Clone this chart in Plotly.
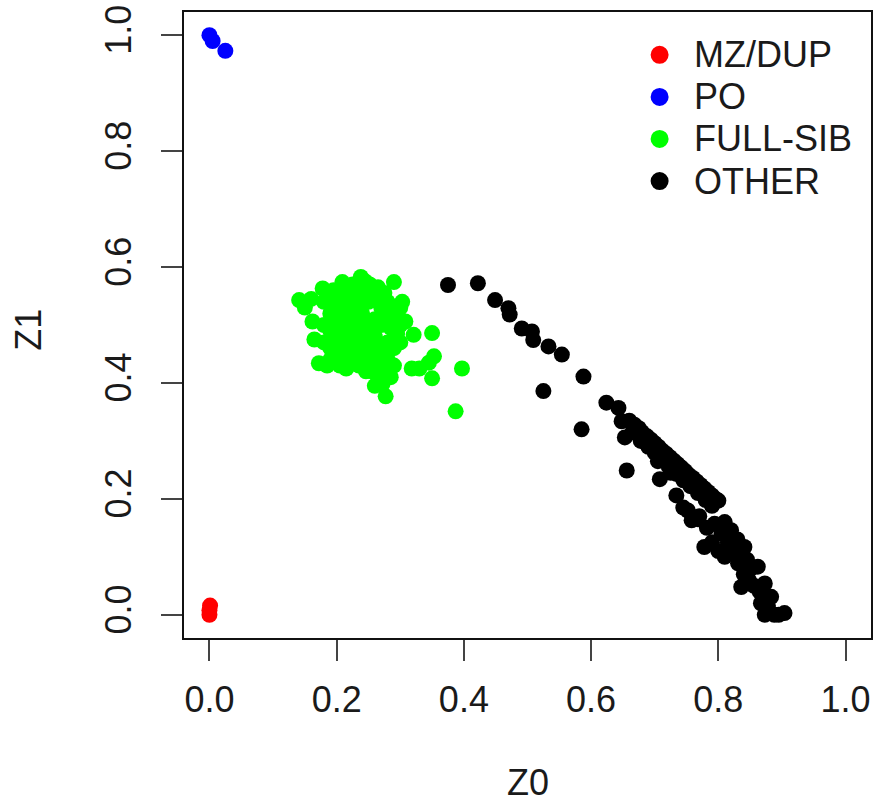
import plotly.graph_objects as go

# ---- data ----
mz_x = [0.000, 0.000, 0.001]
mz_y = [0.000, 0.008, 0.016]

po_x = [0.000, 0.005, 0.025]
po_y = [1.000, 0.990, 0.973]

sib_x = [0.141, 0.150, 0.162, 0.160, 0.178, 0.195, 0.209, 0.225, 0.238, 0.252, 0.290, 0.303, 0.308,
         0.350, 0.321, 0.353, 0.397, 0.350, 0.387, 0.277, 0.272, 0.172, 0.185, 0.318, 0.246, 0.165,
         0.330, 0.345,
         0.18, 0.19, 0.20, 0.21, 0.22, 0.23, 0.24, 0.25, 0.26, 0.27, 0.28, 0.29, 0.30,
         0.18, 0.19, 0.20, 0.21, 0.22, 0.23, 0.24, 0.25, 0.26, 0.27, 0.28, 0.29, 0.30,
         0.18, 0.19, 0.20, 0.21, 0.22, 0.23, 0.24, 0.25, 0.26, 0.27, 0.28, 0.29, 0.30,
         0.19, 0.20, 0.21, 0.22, 0.23, 0.24, 0.25, 0.26, 0.27, 0.28, 0.29,
         0.215, 0.235, 0.255, 0.265, 0.275, 0.285, 0.260, 0.205,
         0.195, 0.215, 0.235, 0.245, 0.255, 0.265, 0.235, 0.225, 0.205, 0.215, 0.245, 0.265,
         0.275, 0.285, 0.295]
sib_y = [0.543, 0.530, 0.506, 0.545, 0.563, 0.560, 0.574, 0.570, 0.583, 0.570, 0.574, 0.540, 0.506,
         0.486, 0.483, 0.446, 0.425, 0.408, 0.351, 0.377, 0.398, 0.434, 0.430, 0.425, 0.420, 0.475,
         0.425, 0.435,
         0.54, 0.52, 0.55, 0.53, 0.55, 0.54, 0.56, 0.54, 0.55, 0.53, 0.54, 0.52, 0.53,
         0.50, 0.49, 0.51, 0.50, 0.52, 0.50, 0.52, 0.50, 0.51, 0.50, 0.51, 0.49, 0.50,
         0.47, 0.46, 0.48, 0.47, 0.48, 0.47, 0.49, 0.47, 0.48, 0.46, 0.47, 0.46, 0.47,
         0.44, 0.45, 0.44, 0.45, 0.44, 0.46, 0.44, 0.45, 0.43, 0.44, 0.43,
         0.425, 0.430, 0.420, 0.410, 0.420, 0.410, 0.395, 0.430,
         0.535, 0.515, 0.525, 0.505, 0.485, 0.465, 0.485, 0.465, 0.495, 0.565, 0.575, 0.565,
         0.555, 0.495, 0.485]

other_x = [0.375, 0.422, 0.449, 0.470, 0.472, 0.491, 0.507, 0.509, 0.533, 0.554, 0.525, 0.588,
           0.585, 0.624, 0.643, 0.648, 0.653, 0.656, 0.708, 0.734,
           0.660, 0.668, 0.675, 0.680, 0.688, 0.694, 0.700, 0.706, 0.712, 0.718, 0.724, 0.730,
           0.736, 0.742, 0.748, 0.754, 0.760, 0.766, 0.772, 0.778, 0.784, 0.790, 0.796, 0.800,
           0.665, 0.678, 0.690, 0.700, 0.712, 0.722, 0.734, 0.745, 0.756, 0.768, 0.780, 0.790,
           0.705, 0.725, 0.752, 0.768,
           0.745, 0.758, 0.770, 0.782, 0.794, 0.805, 0.810, 0.820, 0.815, 0.778, 0.790, 0.800,
           0.830, 0.841, 0.835, 0.831, 0.845, 0.852, 0.862, 0.840, 0.836, 0.848, 0.856, 0.873,
           0.865, 0.883, 0.867, 0.878, 0.888, 0.873, 0.904, 0.895, 0.825, 0.810]
other_y = [0.569, 0.572, 0.543, 0.529, 0.518, 0.494, 0.489, 0.474, 0.463, 0.449, 0.386, 0.411,
           0.320, 0.366, 0.357, 0.334, 0.306, 0.249, 0.234, 0.206,
           0.335, 0.328, 0.322, 0.315, 0.308, 0.302, 0.296, 0.290, 0.283, 0.278, 0.272, 0.266,
           0.260, 0.254, 0.248, 0.241, 0.236, 0.230, 0.224, 0.218, 0.212, 0.206, 0.200, 0.197,
           0.315, 0.300, 0.290, 0.280, 0.268, 0.256, 0.243, 0.232, 0.222, 0.210, 0.198, 0.188,
           0.265, 0.245, 0.180, 0.165,
           0.185, 0.163, 0.170, 0.150, 0.157, 0.140, 0.160, 0.146, 0.125, 0.117, 0.125, 0.110,
           0.130, 0.117, 0.100, 0.089, 0.095, 0.080, 0.083, 0.070, 0.048, 0.060, 0.050, 0.054,
           0.040, 0.031, 0.020, 0.015, 0.000, 0.000, 0.003, 0.000, 0.110, 0.100]

x_ticks = [0.0, 0.2, 0.4, 0.6, 0.8, 1.0]
y_ticks = [0.0, 0.2, 0.4, 0.6, 0.8, 1.0]
tick_text = ["0.0", "0.2", "0.4", "0.6", "0.8", "1.0"]

FONT = "Liberation Sans, Arial, Helvetica, sans-serif"
FS = 36
TXT = "#1a1a1a"

fig = go.Figure()
series = [("MZ/DUP", mz_x, mz_y, "#ff0000"),
          ("PO", po_x, po_y, "#0000ff"),
          ("FULL-SIB", sib_x, sib_y, "#00ff00"),
          ("OTHER", other_x, other_y, "#000000")]
for name, xs, ys, col in series:
    fig.add_trace(go.Scatter(x=xs, y=ys, mode="markers", name=name, showlegend=False,
                             marker=dict(color=col, size=16, line=dict(width=0))))

axis_common = dict(range=[-0.04, 1.04], showgrid=False, zeroline=False,
                   showline=True, mirror=True, linecolor="#111", linewidth=1.5,
                   ticks="outside", ticklen=21, tickwidth=1.5, tickcolor="#444",
                   tickfont=dict(family=FONT, size=FS, color=TXT),
                   tickvals=x_ticks, ticktext=tick_text)
fig.update_xaxes(**axis_common, ticklabelstandoff=8)
fig.update_yaxes(**{**axis_common, "tickvals": y_ticks}, tickangle=-90, ticklabelstandoff=16)

# legend (top-right, no box), built from the series names and colours
annotations = [
    dict(text="Z0", x=0.5, y=-0.2305, xref="paper", yref="paper",
         showarrow=False, xanchor="center", yanchor="middle",
         font=dict(family=FONT, size=FS, color=TXT)),
    dict(text="Z1", x=-0.2264, y=0.493, xref="paper", yref="paper",
         showarrow=False, xanchor="center", yanchor="middle", textangle=-90,
         font=dict(family=FONT, size=FS, color=TXT)),
]
shapes = []
leg_x_marker = 0.6923
leg_x_text = 0.7395
leg_top = 0.9316
leg_step = 0.0672
for i, (name, _, _, col) in enumerate(series):
    yy = leg_top - i * leg_step
    shapes.append(dict(type="circle", xref="paper", yref="paper",
                       xsizemode="pixel", ysizemode="pixel",
                       xanchor=leg_x_marker, yanchor=yy,
                       x0=-9, x1=9, y0=-9, y1=9,
                       fillcolor=col, line=dict(width=0)))
    annotations.append(dict(text=name, x=leg_x_text, y=yy, xref="paper", yref="paper",
                            showarrow=False, xanchor="left", yanchor="middle",
                            font=dict(family=FONT, size=FS, color=TXT)))

fig.update_layout(
    width=878, height=805,
    margin=dict(l=184, r=5, t=9, b=167),
    plot_bgcolor="white", paper_bgcolor="white",
    font=dict(family=FONT, size=FS, color=TXT),
    showlegend=False,
    annotations=annotations,
    shapes=shapes,
)

fig.write_html("out.html")
